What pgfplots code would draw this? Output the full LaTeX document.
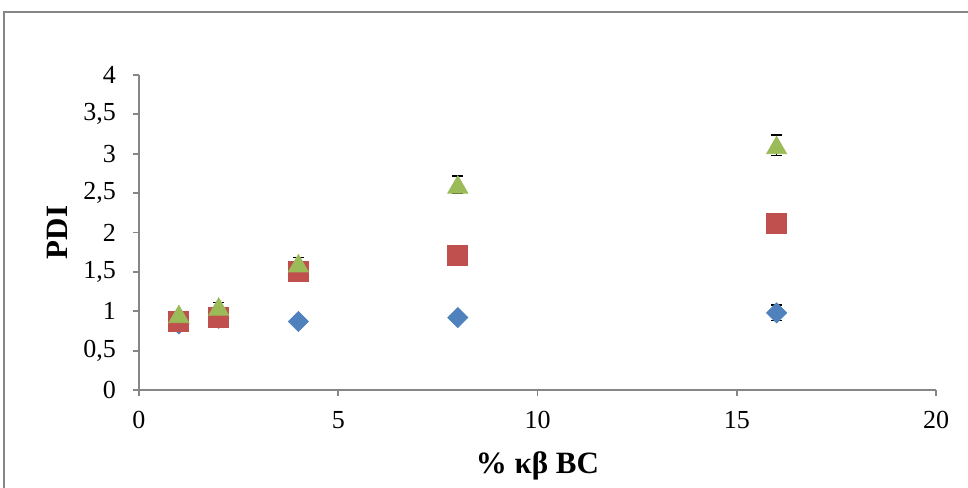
\documentclass[border=0pt]{standalone}
\usepackage{fontspec}
\setmainfont{Liberation Serif}
\usepackage{pgfplots}
\pgfplotsset{compat=1.18}
\definecolor{axgray}{HTML}{868686}
\definecolor{sblue}{HTML}{4F81BD}
\definecolor{sred}{HTML}{C0504D}
\definecolor{sgreen}{HTML}{9BBB59}
\pgfplotstableread{
x y e
1 0.84 0.02
2 0.91 0.02
4 0.87 0.02
8 0.92 0.03
16 0.98 0.10
}\blue
\pgfplotstableread{
x y e
1 0.87 0.02
2 0.92 0.02
4 1.51 0.03
8 1.71 0.03
16 2.11 0.04
}\red
\pgfplotstableread{
x y e
1 0.965 0.03
2 1.06 0.05
4 1.61 0.07
8 2.61 0.11
16 3.11 0.13
}\green
\begin{document}
\begin{tikzpicture}
\useasboundingbox (-69.5pt,-48.5pt) rectangle (414.5pt,195pt);
\draw[axgray, line width=0.6pt] (-67.5pt,-60pt) -- (-67.5pt,189pt) -- (430pt,189pt);
\begin{axis}[
  at={(0,0)}, anchor=origin,
  scale only axis, width=398.5pt, height=157.5pt,
  xmin=0, xmax=20, ymin=0, ymax=4,
  xtick={0,5,...,20}, ytick={0,0.5,...,4},
  axis x line*=bottom, axis y line*=left,
  axis line style={axgray, line width=0.9pt, -},
  tick style={axgray, line width=0.9pt},
  tick align=outside, major tick length=3pt,
  /pgf/number format/assume math mode=true,
  /pgf/number format/use comma,
  ticklabel style={font=\fontsize{13}{15}\selectfont, text=black},
  xticklabel style={yshift=-4pt},
  yticklabel style={xshift=-5pt, /pgf/number format/fixed, /pgf/number format/precision=1},
  xlabel={\% κβ BC}, ylabel={PDI},
  label style={font=\fontsize{15.5}{18}\selectfont\bfseries},
  xlabel style={at={(axis description cs:0.5,0)}, anchor=base, yshift=-41.6pt},
  ylabel style={at={(axis description cs:0,0.5)}, anchor=center, yshift=40.75pt},
  clip=false,
]
\addplot[only marks, mark=none, error bars/.cd, y dir=both, y explicit,
  error bar style={black, line width=0.7pt}, error mark options={black, rotate=90, mark size=2.75pt, line width=0.7pt}]
  table[x=x, y=y, y error=e] {\blue};
\addplot[only marks, mark=none, error bars/.cd, y dir=both, y explicit,
  error bar style={black, line width=0.7pt}, error mark options={black, rotate=90, mark size=2.75pt, line width=0.7pt}]
  table[x=x, y=y, y error=e] {\red};
\addplot[only marks, mark=none, error bars/.cd, y dir=both, y explicit,
  error bar style={black, line width=0.7pt}, error mark options={black, rotate=90, mark size=2.75pt, line width=0.7pt}]
  table[x=x, y=y, y error=e] {\green};
\addplot[only marks, mark=square*, mark size=3.54pt, mark options={rotate=45, fill=sblue, draw=sblue}] table[x=x, y=y] {\blue};
\addplot[only marks, mark=square*, mark size=5pt, mark options={fill=sred, draw=sred}] table[x=x, y=y] {\red};
\addplot[only marks, mark=triangle*, mark size=5.77pt, mark options={fill=sgreen, draw=sgreen, yshift=-1.44pt}] table[x=x, y=y] {\green};
\end{axis}
\end{tikzpicture}
\end{document}
